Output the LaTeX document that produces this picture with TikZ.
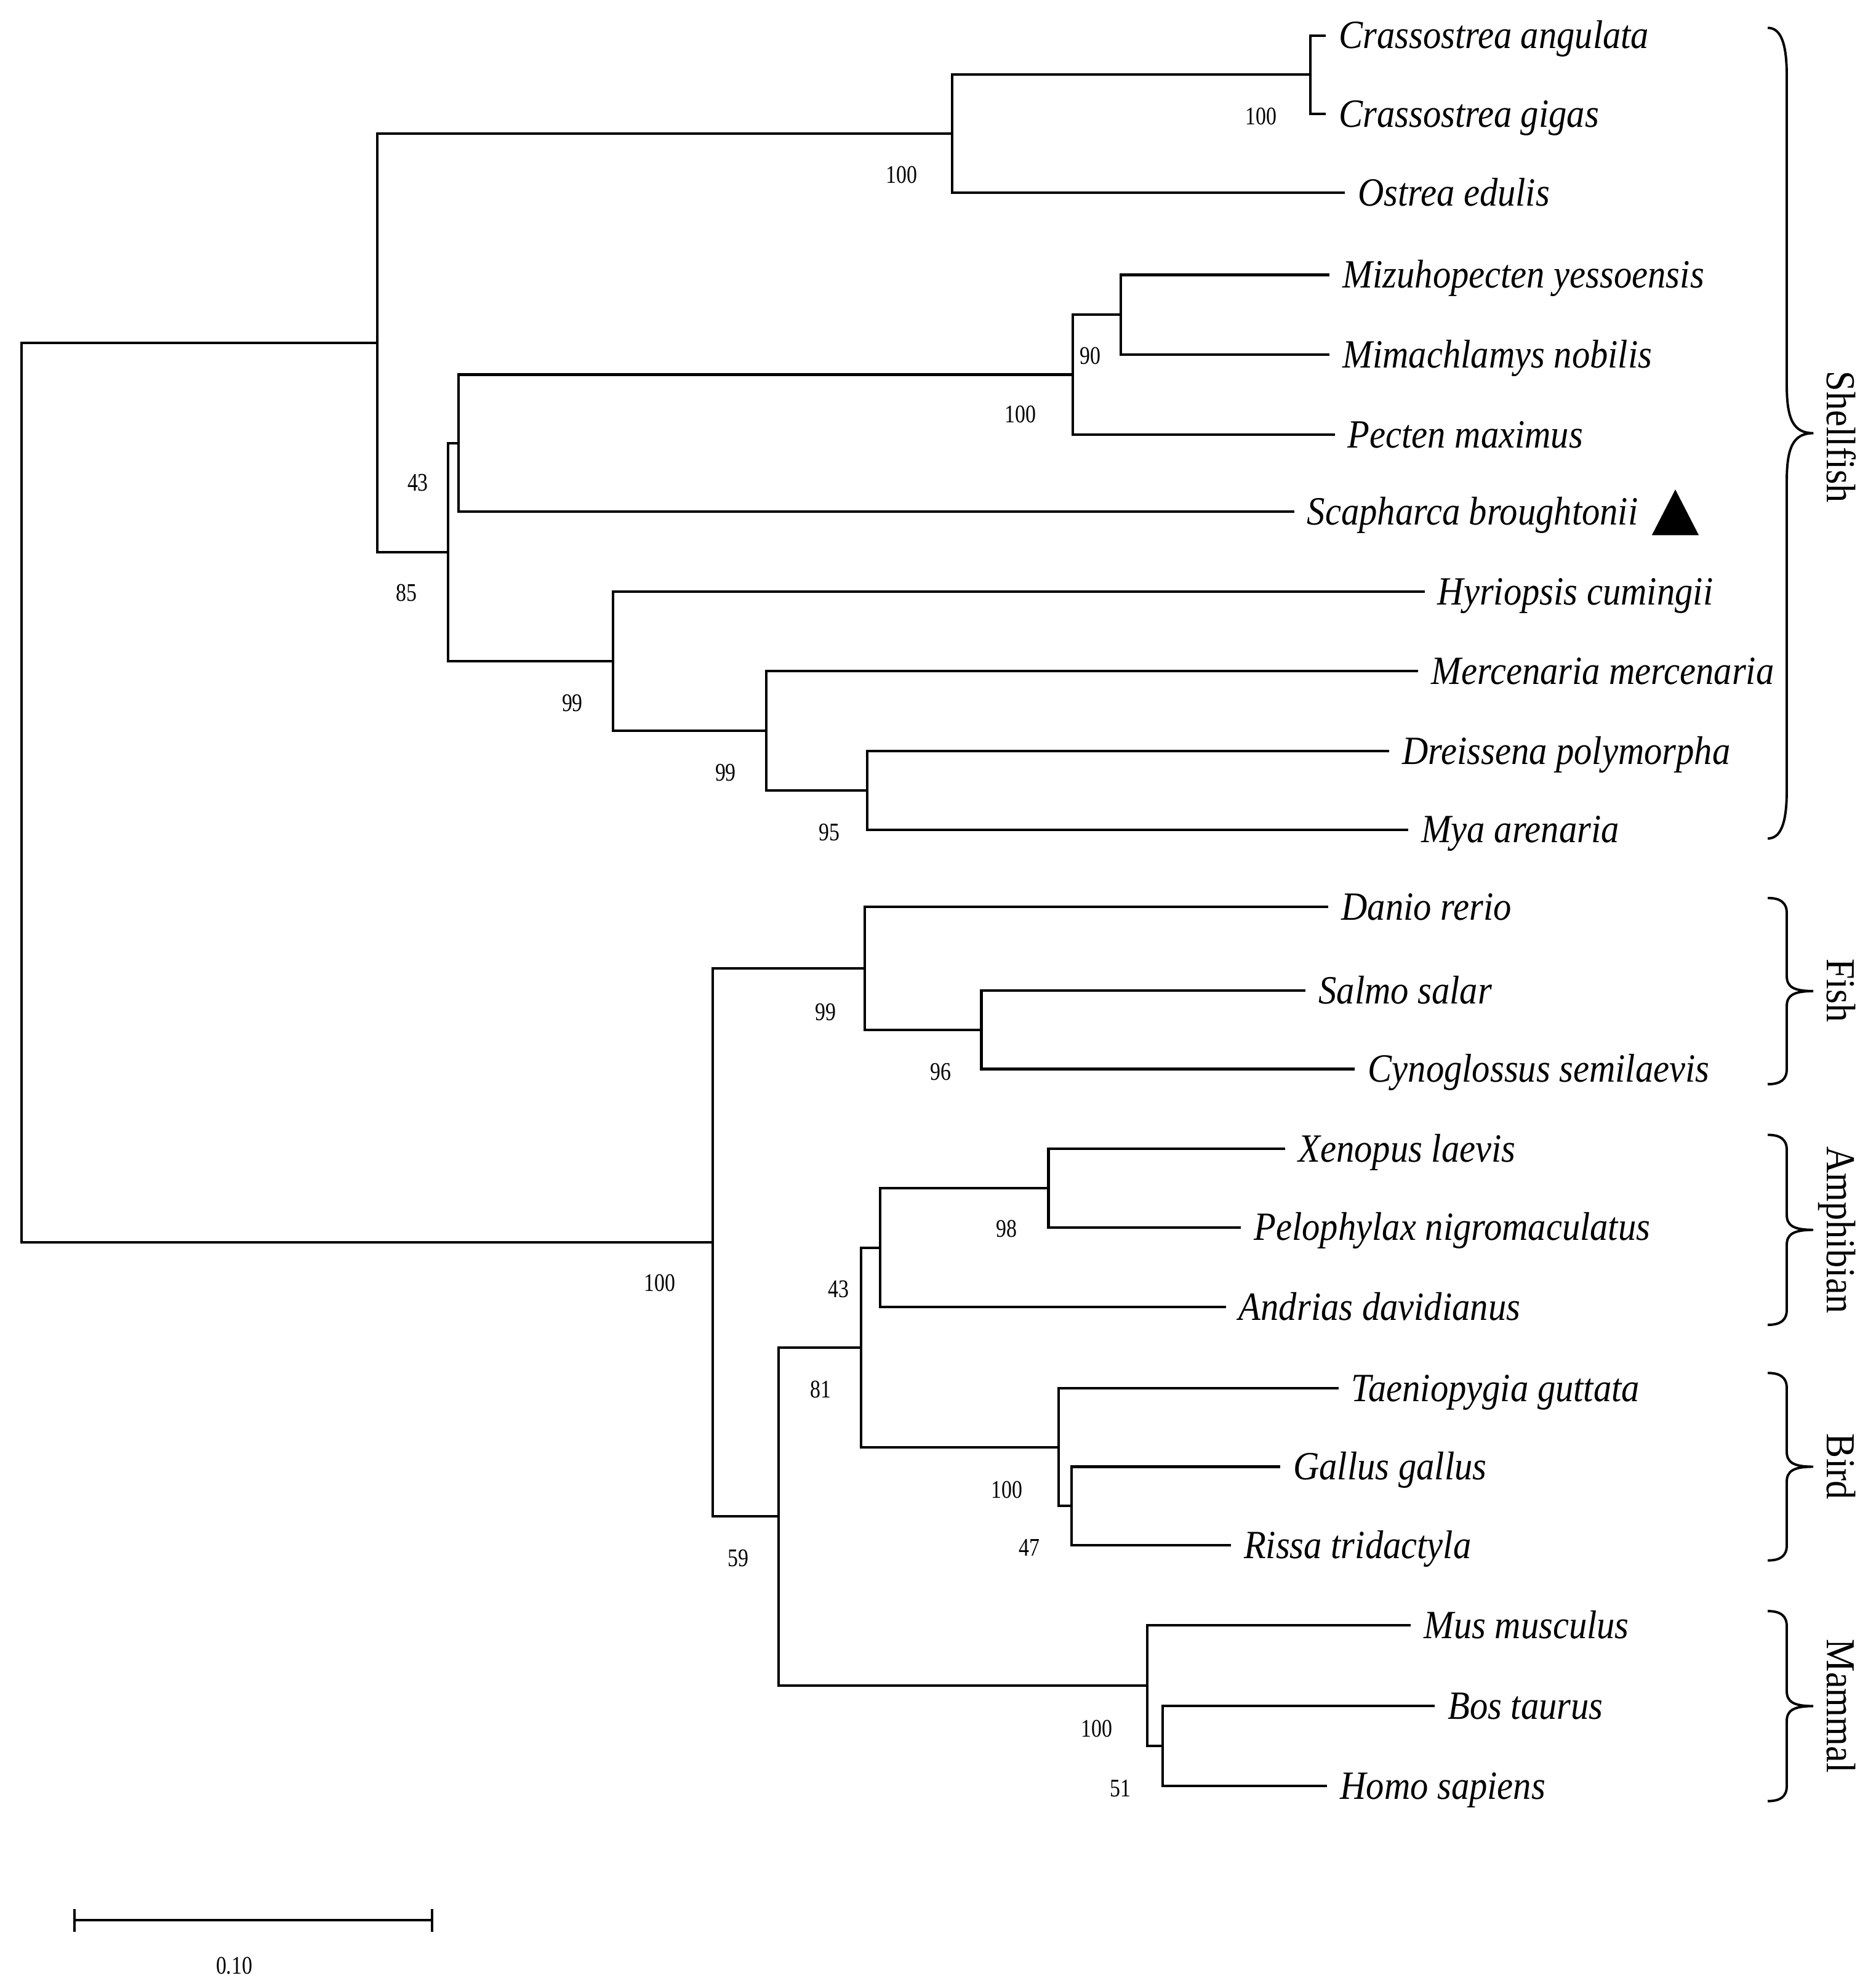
\documentclass[tikz,border=0pt]{standalone}
\usepackage{fontspec}
\setmainfont{Liberation Serif}
\newfontfamily\spfont[FakeStretch=0.9]{Liberation Serif}
\newfontfamily\numfont[FakeStretch=0.82]{Liberation Serif}
\newfontfamily\grpfont[FakeStretch=0.9]{Liberation Serif}
\newcommand\cladebrace[3]{%
  \draw[bracestyle] (1396,#1) .. controls (1406,#1) and (1411,#1+0.3*#3) .. (1411,#1+#3)
    -- (1411,{(#1+#2)/2-#3}) .. controls (1411,{(#1+#2)/2-0.3*#3}) and (1416,{(#1+#2)/2}) .. (1432,{(#1+#2)/2})
    .. controls (1416,{(#1+#2)/2}) and (1411,{(#1+#2)/2+0.3*#3}) .. (1411,{(#1+#2)/2+#3})
    -- (1411,#2-#3) .. controls (1411,#2-0.3*#3) and (1406,#2) .. (1396,#2);}
\begin{document}
\begin{tikzpicture}[x=0.2mm,y=-0.2mm,
  branch/.style={line width=0.4mm},
  bracestyle/.style={line width=0.38mm},
  leaf/.style={anchor=west, inner xsep=2mm, inner ysep=0pt, text height=12.5pt, text depth=0.7pt,
    font=\spfont\itshape\fontsize{18}{20}\selectfont},
  bs/.style={inner sep=0pt, font=\numfont\fontsize{11.4}{12}\selectfont},
  grp/.style={rotate=-90, anchor=base, inner sep=0pt, font=\grpfont\fontsize{18.5}{20}\selectfont}]
\useasboundingbox (0,0) rectangle (1481,1568);
\fill[white] (0,0) rectangle (1481,1568);

% leaves
\node[leaf] (l1) at (1047,28) {Crassostrea angulata};
\node[leaf] (l2) at (1047,90) {Crassostrea gigas};
\node[leaf] (l3) at (1062,152) {Ostrea edulis};
\node[leaf] (l4) at (1050,217) {Mizuhopecten yessoensis};
\node[leaf] (l5) at (1050,280) {Mimachlamys nobilis};
\node[leaf] (l6) at (1054,343) {Pecten maximus};
\node[leaf] (l7) at (1022,404) {Scapharca broughtonii};
\node[leaf] (l8) at (1125,467) {Hyriopsis cumingii};
\node[leaf] (l9) at (1120,530) {Mercenaria mercenaria};
\node[leaf] (l10) at (1097,593) {Dreissena polymorpha};
\node[leaf] (l11) at (1112,655) {Mya arenaria};
\node[leaf] (l12) at (1049,716) {Danio rerio};
\node[leaf] (l13) at (1031,782) {Salmo salar};
\node[leaf] (l14) at (1070,844) {Cynoglossus semilaevis};
\node[leaf] (l15) at (1015,907) {Xenopus laevis};
\node[leaf] (l16) at (980,969) {Pelophylax nigromaculatus};
\node[leaf] (l17) at (968,1032) {Andrias davidianus};
\node[leaf] (l18) at (1057,1096) {Taeniopygia guttata};
\node[leaf] (l19) at (1011,1158) {Gallus gallus};
\node[leaf] (l20) at (972,1220) {Rissa tridactyla};
\node[leaf] (l21) at (1114,1283) {Mus musculus};
\node[leaf] (l22) at (1133,1347) {Bos taurus};
\node[leaf] (l23) at (1048,1410) {Homo sapiens};

% internal nodes
\coordinate (n1) at (1035,59);
\coordinate (n2) at (752,105.5);
\coordinate (n3) at (885,248.5);
\coordinate (n4) at (847,295.75);
\coordinate (n5) at (362,349.9);
\coordinate (n6) at (685,624);
\coordinate (n7) at (605,577);
\coordinate (n8) at (484,522);
\coordinate (n9) at (354,436);
\coordinate (n10) at (298,270.7);
\coordinate (n11) at (775,813);
\coordinate (n12) at (683,764.5);
\coordinate (n13) at (828,938);
\coordinate (n14) at (695,985);
\coordinate (n15) at (846,1189);
\coordinate (n16) at (836,1142.5);
\coordinate (n17) at (680,1063.75);
\coordinate (n18) at (918,1378.5);
\coordinate (n19) at (906,1330.75);
\coordinate (n20) at (615,1197.25);
\coordinate (n21) at (563,980.9);
\coordinate (root) at (17,625.8);

% branches
\draw[branch] (n1) |- (l1.west);
\draw[branch] (n1) |- (l2.west);
\draw[branch] (n2) |- (n1);
\draw[branch] (n2) |- (l3.west);
\draw[branch] (n3) |- (l4.west);
\draw[branch] (n3) |- (l5.west);
\draw[branch] (n4) |- (n3);
\draw[branch] (n4) |- (l6.west);
\draw[branch] (n5) |- (n4);
\draw[branch] (n5) |- (l7.west);
\draw[branch] (n6) |- (l10.west);
\draw[branch] (n6) |- (l11.west);
\draw[branch] (n7) |- (l9.west);
\draw[branch] (n7) |- (n6);
\draw[branch] (n8) |- (l8.west);
\draw[branch] (n8) |- (n7);
\draw[branch] (n9) |- (n5);
\draw[branch] (n9) |- (n8);
\draw[branch] (n10) |- (n2);
\draw[branch] (n10) |- (n9);
\draw[branch] (n11) |- (l13.west);
\draw[branch] (n11) |- (l14.west);
\draw[branch] (n12) |- (l12.west);
\draw[branch] (n12) |- (n11);
\draw[branch] (n13) |- (l15.west);
\draw[branch] (n13) |- (l16.west);
\draw[branch] (n14) |- (n13);
\draw[branch] (n14) |- (l17.west);
\draw[branch] (n15) |- (l19.west);
\draw[branch] (n15) |- (l20.west);
\draw[branch] (n16) |- (l18.west);
\draw[branch] (n16) |- (n15);
\draw[branch] (n17) |- (n14);
\draw[branch] (n17) |- (n16);
\draw[branch] (n18) |- (l22.west);
\draw[branch] (n18) |- (l23.west);
\draw[branch] (n19) |- (l21.west);
\draw[branch] (n19) |- (n18);
\draw[branch] (n20) |- (n17);
\draw[branch] (n20) |- (n19);
\draw[branch] (n21) |- (n12);
\draw[branch] (n21) |- (n20);
\draw[branch] (root) |- (n10);
\draw[branch] (root) |- (n21);

% bootstrap values
\node[bs] (b1) at (996,92) {100};
\node[bs] (b2) at (712,138) {100};
\node[bs] (b3) at (861,281) {90};
\node[bs] (b4) at (806,327) {100};
\node[bs] (b5) at (330,381) {43};
\node[bs] (b6) at (321,468) {85};
\node[bs] (b7) at (452,555) {99};
\node[bs] (b8) at (573,610) {99};
\node[bs] (b9) at (655,657) {95};
\node[bs] (b10) at (652,799) {99};
\node[bs] (b11) at (743,846) {96};
\node[bs] (b12) at (521,1013) {100};
\node[bs] (b13) at (795,970) {98};
\node[bs] (b14) at (662,1018) {43};
\node[bs] (b15) at (648,1097) {81};
\node[bs] (b16) at (795,1176) {100};
\node[bs] (b17) at (813,1222) {47};
\node[bs] (b18) at (583,1230) {59};
\node[bs] (b19) at (866,1365) {100};
\node[bs] (b20) at (885,1412) {51};

% marker
\fill (1304.5,422.5) -- (1341.5,422.5) -- (1323,386.5) -- cycle;

% clade braces and labels
\cladebrace{22}{662}{38}
\cladebrace{709}{856}{12}
\cladebrace{896}{1046}{12}
\cladebrace{1084}{1232}{12}
\cladebrace{1272}{1422}{12}
\node[grp] (g1) at (1443,345) {Shellfish};
\node[grp] (g2) at (1443,782) {Fish};
\node[grp] (g3) at (1443,971) {Amphibian};
\node[grp] (g4) at (1443,1158) {Bird};
\node[grp] (g5) at (1443,1347) {Mammal};

% scale bar
\coordinate (s1) at (59,1516);
\coordinate (s2) at (341,1516);
\draw[branch] (s1) -- (s2);
\draw[branch] ([yshift=-1.8mm]s1) -- ([yshift=1.8mm]s1);
\draw[branch] ([yshift=-1.8mm]s2) -- ([yshift=1.8mm]s2);
\node[bs] (sl) at (185,1552) {0.10};
\end{tikzpicture}
\end{document}
